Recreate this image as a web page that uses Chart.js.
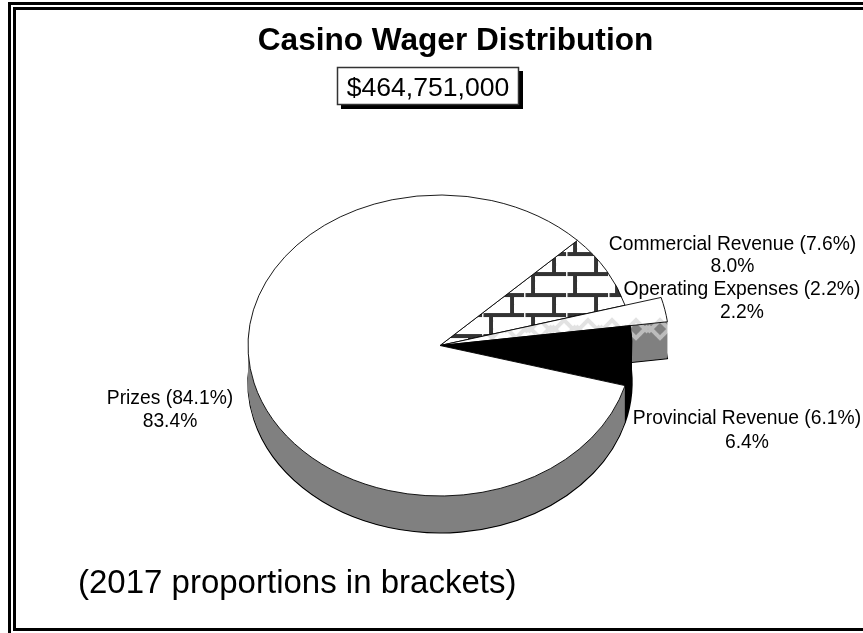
<!DOCTYPE html>
<html><head><meta charset="utf-8">
<style>html,body{margin:0;padding:0;background:#fff}canvas{display:block}</style>
<script src="https://cdn.jsdelivr.net/npm/chart.js@4"></script>
</head><body><canvas id="c" width="863" height="633"></canvas>
<script>
const categories = ["Commercial Revenue", "Operating Expenses", "Provincial Revenue", "Prizes"];
const values2018 = [8.0, 2.2, 6.4, 83.4];
const values2017 = [7.6, 2.2, 6.1, 84.1];
const titleText = "Casino Wager Distribution";
const totalText = "$464,751,000";
const noteText = "(2017 proportions in brackets)";

const CX = 440, CY = 345.5, R = 192, SQUASH = 150.5 / 192, DEPTH = 37;
const RAISED = 1, RAISED_FACTOR = 1.195;
const labelPos = [[732.5, 244.5, 266.5], [742, 289.5, 312.5], [747, 418.5, 442.5], [170, 398.5, 421.5]];

function tile(w, h, draw) {
  const t = document.createElement('canvas'); t.width = w; t.height = h;
  draw(t.getContext('2d')); return t;
}
const ctx0 = document.getElementById('c').getContext('2d');
const brickTile = tile(42, 41, g => {
  g.fillStyle = '#fff'; g.fillRect(0, 0, 42, 41);
  g.fillStyle = '#333';
  g.fillRect(0, 6, 42, 4); g.fillRect(0, 26, 42, 4);
  g.fillRect(6, 8, 4, 20);
  g.fillRect(27, 28, 4, 13); g.fillRect(27, 0, 4, 8);
  g.fillStyle = '#fff';
  g.fillRect(20, 6, 1.5, 4); g.fillRect(20, 26, 1.5, 4);
});
function zig(bg, fg) {
  return tile(24, 60, g => {
    g.fillStyle = bg; g.fillRect(0, 0, 24, 60);
    g.strokeStyle = fg; g.lineWidth = 4;
    g.beginPath();
    g.moveTo(0, 32); g.lineTo(12, 20); g.lineTo(24, 32);
    g.moveTo(0, 26); g.lineTo(12, 38); g.lineTo(24, 26);
    g.stroke();
  });
}
const brick = ctx0.createPattern(brickTile, 'repeat');
const zigFace = ctx0.createPattern(zig('#fff', '#e2e2e2'), 'repeat');
const zigSide = ctx0.createPattern(zig('#808080', '#bcbcbc'), 'repeat');
const faceColors = [brick, zigFace, '#000', '#fff'];
const sideColors = ['#333', zigSide, '#000', '#808080'];

function place(pattern, dy) {
  // keeps a tile aligned with the screen under the pie's squash transform
  const m = new DOMMatrix().translate(0, CY + dy).scale(1, SQUASH).translate(0, -CY).inverse();
  pattern.setTransform(m);
}
function squash(ctx, dy) {
  ctx.translate(0, CY + dy); ctx.scale(1, SQUASH); ctx.translate(0, -CY);
}

const piePlugin = {
  id: 'pie3d',
  afterDatasetUpdate(chart) {
    const arc = chart.getDatasetMeta(0).data[RAISED];
    if (arc) arc.outerRadius = R * RAISED_FACTOR;
  },
  beforeDatasetsDraw(chart) {
    const ctx = chart.ctx, arcs = chart.getDatasetMeta(0).data;
    for (let d = DEPTH; d >= 1; d--) {
      [3, 0, 1, 2].forEach(i => {
        const arc = arcs[i], saved = arc.options, side = sideColors[i];
        if (side instanceof CanvasPattern) place(side, d);
        arc.options = Object.assign({}, saved, {
          backgroundColor: side,
          borderColor: '#000',
          borderWidth: d === DEPTH ? 1.4 : 0
        });
        ctx.save(); squash(ctx, d); arc.draw(ctx); ctx.restore();
        arc.options = saved;
      });
    }
    place(brick, 0); place(zigFace, 0);
    ctx.save(); squash(ctx, 0);
  },
  afterDatasetsDraw(chart) { chart.ctx.restore(); }
};

const textPlugin = {
  id: 'texts',
  beforeDraw(chart) {
    const c = chart.ctx;
    c.save(); c.fillStyle = '#fff'; c.fillRect(0, 0, 863, 633);
    c.fillStyle = '#000';
    c.fillRect(8, 2, 855, 3); c.fillRect(8, 2, 3, 631);
    c.fillRect(13, 7, 850, 3); c.fillRect(13, 7, 3, 624); c.fillRect(13, 628, 850, 3);
    c.restore();
  },
  afterDraw(chart) {
    const c = chart.ctx;
    c.save(); c.fillStyle = '#000'; c.textAlign = 'center'; c.textBaseline = 'middle';
    c.font = 'bold 31.6px "Liberation Sans"';
    c.fillText(titleText, 455.5, 41);
    c.fillStyle = '#000'; c.fillRect(341, 71, 182, 38);
    c.fillStyle = '#fff'; c.fillRect(337, 67, 182, 38);
    c.strokeStyle = '#333'; c.lineWidth = 1.5; c.strokeRect(337.5, 67.5, 181, 37);
    c.fillStyle = '#000';
    c.font = '26.6px "Liberation Sans"';
    c.fillText(totalText, 428, 89);
    c.font = '19.3px "Liberation Sans"';
    categories.forEach((name, i) => {
      const p = labelPos[i];
      c.fillText(name + ' (' + values2017[i].toFixed(1) + '%)', p[0], p[1]);
      c.fillText(values2018[i].toFixed(1) + '%', p[0], p[2]);
    });
    c.textAlign = 'left';
    c.font = '33px "Liberation Sans"';
    c.fillText(noteText, 78, 584);
    c.restore();
  }
};

new Chart(ctx0, {
  type: 'pie',
  data: {
    labels: categories,
    datasets: [{
      data: values2018,
      backgroundColor: faceColors,
      borderColor: '#000',
      borderWidth: 1,
      clip: false
    }]
  },
  options: {
    responsive: false,
    animation: false,
    rotation: 45.7,
    radius: R,
    layout: { padding: { left: CX - R, right: 863 - CX - R, top: CY - R, bottom: 633 - CY - R } },
    plugins: { legend: { display: false }, tooltip: { enabled: false }, title: { display: false } }
  },
  plugins: [textPlugin, piePlugin]
});
</script></body></html>
